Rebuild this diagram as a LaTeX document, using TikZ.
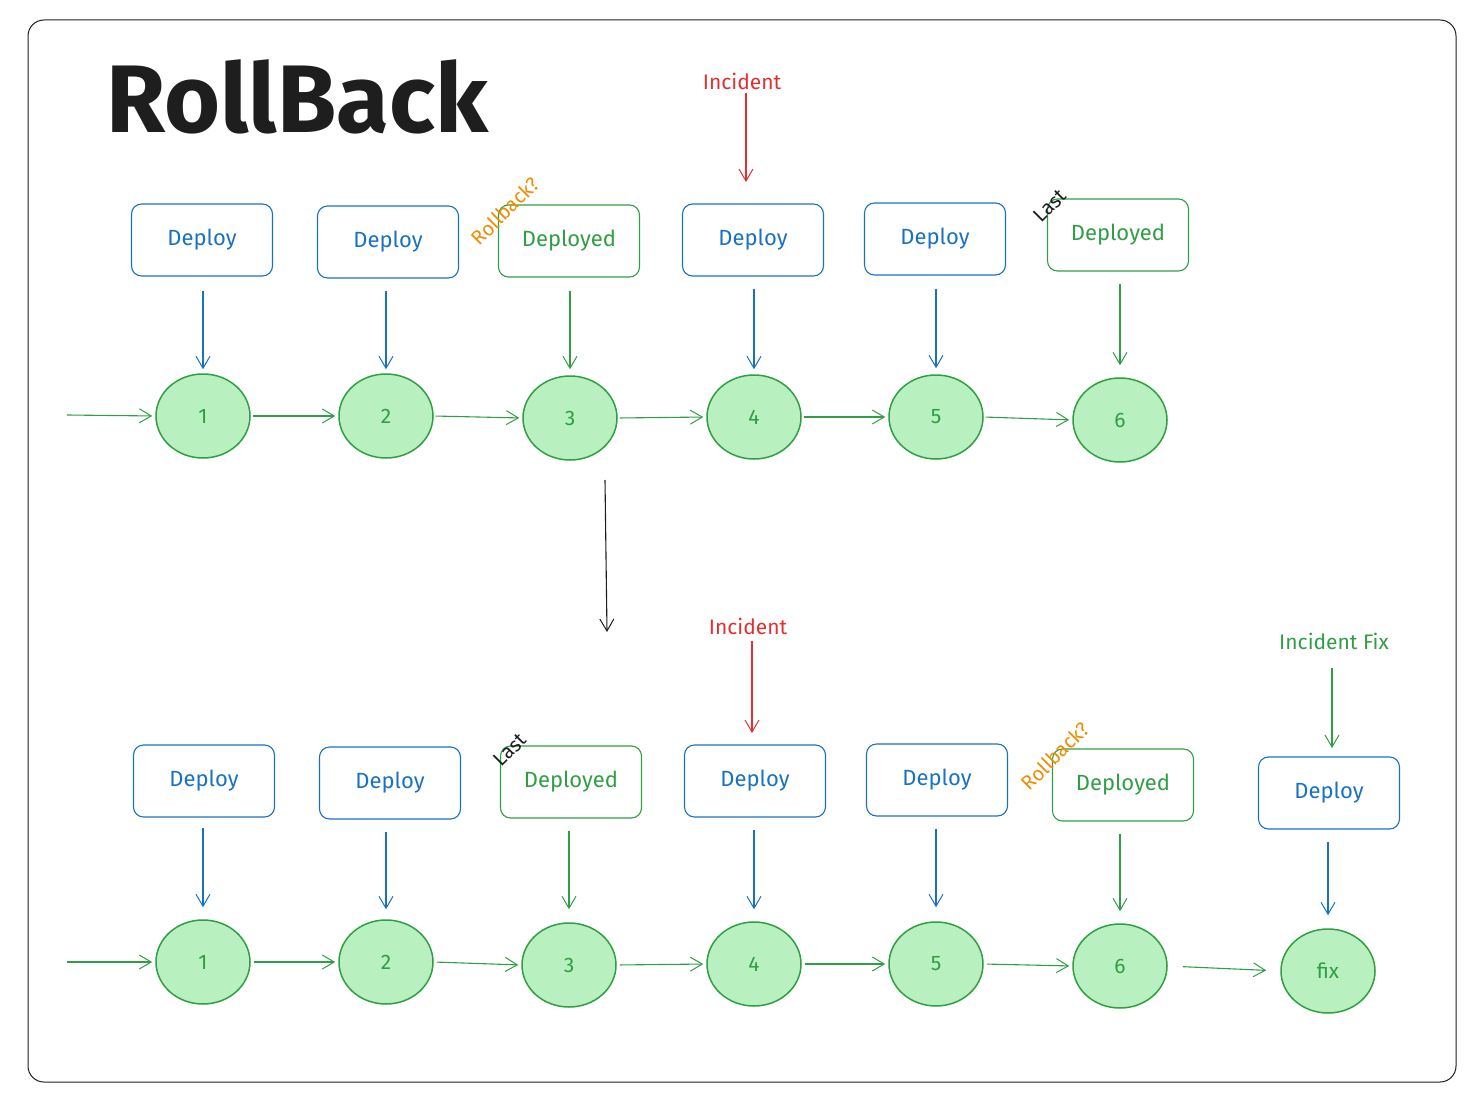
\documentclass[tikz,border=0pt]{standalone}
\usepackage{fontspec}
\setmainfont{Fira Sans}
\usetikzlibrary{arrows.meta,shapes.geometric}
\definecolor{xblue}{HTML}{1971C2}
\definecolor{xgreen}{HTML}{2F9E44}
\definecolor{xfill}{HTML}{B9F0BF}
\definecolor{xred}{HTML}{E03131}
\definecolor{xorange}{HTML}{F08C00}
\definecolor{xblack}{HTML}{1E1E1E}
\tikzset{
  bluebox/.style={draw=xblue,line width=1.1pt,rounded corners=10pt,minimum width=141pt,minimum height=72pt,text=xblue,font=\fontsize{22}{24}\selectfont,inner sep=0pt},
  greenbox/.style={draw=xgreen,line width=1.1pt,rounded corners=10pt,minimum width=141pt,minimum height=72pt,text=xgreen,font=\fontsize{22}{24}\selectfont,inner sep=0pt},
  state/.style={ellipse,draw=xgreen,fill=xfill,line width=1.5pt,minimum width=94pt,minimum height=84pt,inner sep=0pt,text=xgreen,font=\fontsize{21}{22}\selectfont},
  tip/.style={-{Straight Barb[length=12pt,width=14pt,line width=1pt]}},
  garrow/.style={tip,draw=xgreen,line width=1.1pt},
  barrow/.style={tip,draw=xblue,line width=1.1pt},
  rarrow/.style={tip,draw=xred,line width=1.1pt},
  karrow/.style={tip,draw=xblack,line width=1.1pt},
  note/.style={font=\fontsize{21}{22}\selectfont,inner sep=0pt},
  tag/.style={font=\fontsize{20}{22}\selectfont,inner sep=0pt,rotate=45},
}
\begin{document}
\begin{tikzpicture}[x=1pt,y=-1pt]
\useasboundingbox (0,0) rectangle (1478,1102);
\draw[xblack,line width=1pt,rounded corners=16pt] (28,20) rectangle (1456,1082);
\node[anchor=west,inner sep=0pt,text=xblack,font=\fontsize{96}{96}\selectfont\bfseries] (title) at (106,97) {RollBack};

% ---------- top row ----------
\node[note,text=xred] (inc1) at (742,81) {Incident};
\coordinate (inc1e) at (746,182);
\draw[rarrow] (inc1.south) ++(4,3) -- (inc1e);

\node[bluebox] (t1) at (202,240) {Deploy};
\node[bluebox] (t2) at (388,242) {Deploy};
\node[greenbox] (t3) at (569,241) {Deployed};
\node[bluebox] (t4) at (753,240) {Deploy};
\node[bluebox] (t5) at (935,239) {Deploy};
\node[greenbox] (t6) at (1118,235) {Deployed};
\node[tag,text=xorange] (rb1) at (505,211) {Rollback?};
\node[tag,text=xblack] (last1) at (1050,206) {Last};

\node[state] (c1) at (203,416) {1};
\node[state] (c2) at (386,416) {2};
\node[state] (c3) at (570,418) {3};
\node[state] (c4) at (754,417) {4};
\node[state] (c5) at (936,417) {5};
\node[state] (c6) at (1120,420) {6};

\coordinate (in1) at (67,415);
\draw[garrow,shorten >=3pt] (in1) -- (c1.west);
\draw[garrow,shorten <=2pt,shorten >=3pt] (c1.east) -- (c2.west);
\draw[garrow,shorten <=2pt,shorten >=3pt] (c2.east) -- (c3.west);
\draw[garrow,shorten <=2pt,shorten >=3pt] (c3.east) -- (c4.west);
\draw[garrow,shorten <=2pt,shorten >=3pt] (c4.east) -- (c5.west);
\draw[garrow,shorten <=2pt,shorten >=3pt] (c5.east) -- (c6.west);

\draw[barrow,shorten <=14pt,shorten >=4pt] (t1.south -| c1.north) -- (c1.north);
\draw[barrow,shorten <=12pt,shorten >=4pt] (t2.south -| c2.north) -- (c2.north);
\draw[garrow,shorten <=13pt,shorten >=6pt] (t3.south -| c3.north) -- (c3.north);
\draw[barrow,shorten <=12pt,shorten >=5pt] (t4.south -| c4.north) -- (c4.north);
\draw[barrow,shorten <=13pt,shorten >=6pt] (t5.south -| c5.north) -- (c5.north);
\draw[garrow,shorten <=12pt,shorten >=12pt] (t6.south -| c6.north) -- (c6.north);

% ---------- transition ----------
\coordinate (ds) at (605,480);
\coordinate (de) at (607,632);
\draw[karrow] (ds) -- (de);

% ---------- bottom row ----------
\node[note,text=xred] (inc2) at (748,626) {Incident};
\coordinate (inc2e) at (752,733);
\draw[rarrow] (inc2.south) ++(4,6) -- (inc2e);
\node[note,text=xgreen] (fixl) at (1334,641) {Incident Fix};
\coordinate (fixe) at (1332,748);
\draw[garrow] (fixl.south) ++(-2,18) -- (fixe);

\node[bluebox] (u1) at (204,781) {Deploy};
\node[bluebox] (u2) at (390,783) {Deploy};
\node[greenbox] (u3) at (571,782) {Deployed};
\node[bluebox] (u4) at (755,781) {Deploy};
\node[bluebox] (u5) at (937,780) {Deploy};
\node[greenbox] (u6) at (1123,785) {Deployed};
\node[bluebox] (u7) at (1329,793) {Deploy};
\node[tag,text=xblack] (last2) at (510,750) {Last};
\node[tag,text=xorange] (rb2) at (1055,756) {Rollback?};

\node[state] (d1) at (203,962) {1};
\node[state] (d2) at (386,962) {2};
\node[state] (d3) at (569,965) {3};
\node[state] (d4) at (754,964) {4};
\node[state] (d5) at (936,964) {5};
\node[state] (d6) at (1120,966) {6};
\node[state] (d7) at (1328,971) {fix};

\coordinate (in2) at (67,962);
\draw[garrow,shorten >=3pt] (in2) -- (d1.west);
\draw[garrow,shorten <=3pt,shorten >=3pt] (d1.east) -- (d2.west);
\draw[garrow,shorten <=3pt,shorten >=3pt] (d2.east) -- (d3.west);
\draw[garrow,shorten <=3pt,shorten >=3pt] (d3.east) -- (d4.west);
\draw[garrow,shorten <=3pt,shorten >=3pt] (d4.east) -- (d5.west);
\draw[garrow,shorten <=3pt,shorten >=3pt] (d5.east) -- (d6.west);
\draw[garrow,shorten <=15pt,shorten >=14pt] (d6.east) -- (d7.west);

\draw[barrow,shorten <=10pt,shorten >=12pt] (u1.south -| d1.north) -- (d1.north);
\draw[barrow,shorten <=12pt,shorten >=10pt] (u2.south -| d2.north) -- (d2.north);
\draw[garrow,shorten <=12pt,shorten >=13pt] (u3.south -| d3.north) -- (d3.north);
\draw[barrow,shorten <=12pt,shorten >=12pt] (u4.south -| d4.north) -- (d4.north);
\draw[barrow,shorten <=12pt,shorten >=14pt] (u5.south -| d5.north) -- (d5.north);
\draw[garrow,shorten <=12pt,shorten >=12pt] (u6.south -| d6.north) -- (d6.north);
\draw[barrow,shorten <=12pt,shorten >=13pt] (u7.south -| d7.north) -- (d7.north);
\end{tikzpicture}
\end{document}
